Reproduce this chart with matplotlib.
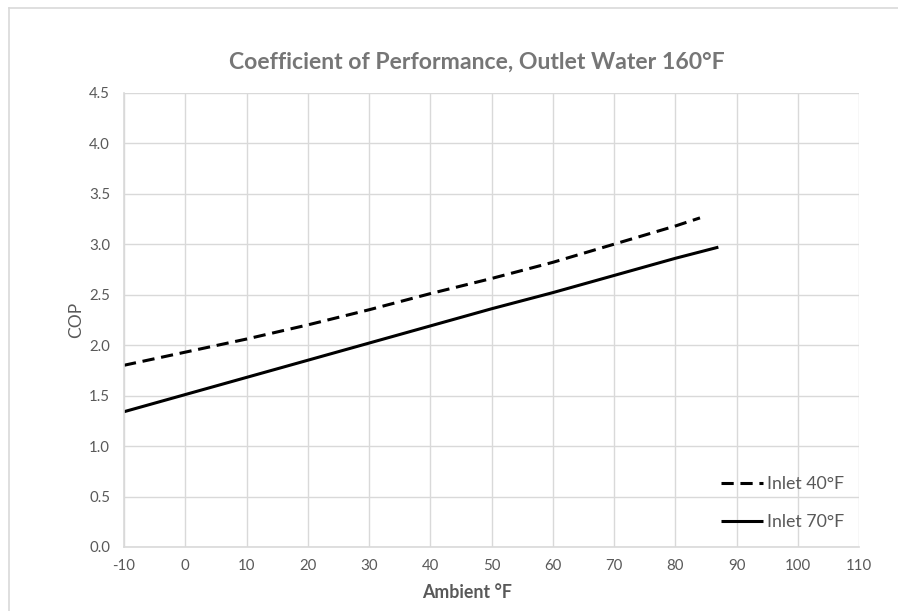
import matplotlib
matplotlib.use("Agg")
import matplotlib.pyplot as plt
from matplotlib.lines import Line2D

plt.rcParams['font.family'] = ['Lato', 'DejaVu Sans']

# Data
ambient_40 = [-10, 0, 10, 20, 30, 40, 50, 60, 70, 80, 84]
cop_40 = [1.80, 1.93, 2.06, 2.20, 2.35, 2.51, 2.66, 2.82, 3.00, 3.18, 3.26]
ambient_70 = [-10, 0, 10, 20, 30, 40, 50, 60, 70, 80, 87]
cop_70 = [1.34, 1.51, 1.68, 1.85, 2.02, 2.19, 2.36, 2.52, 2.69, 2.86, 2.97]

x_ticks = [-10, 0, 10, 20, 30, 40, 50, 60, 70, 80, 90, 100, 110]
y_ticks = [0.0, 0.5, 1.0, 1.5, 2.0, 2.5, 3.0, 3.5, 4.0, 4.5]

title = "Coefficient of Performance, Outlet Water 160°F"
xlabel = "Ambient °F"
ylabel = "COP"
labels = ["Inlet 40°F", "Inlet 70°F"]

W, H = 898, 611
fig = plt.figure(figsize=(W / 100, H / 100), dpi=100)
ax = fig.add_axes([124 / W, (H - 547) / H, (859.3 - 124) / W, (547 - 92.7) / H])

grid_c = '#d9d9d9'
text_c = '#595959'

l1, = ax.plot(ambient_40, cop_40, color='black', lw=2.2, dashes=(4, 2.2),
              solid_capstyle='butt', dash_capstyle='butt')
l2, = ax.plot(ambient_70, cop_70, color='black', lw=2.2, solid_capstyle='butt')

ax.set_xlim(-10, 110)
ax.set_ylim(0, 4.5)
ax.set_xticks(x_ticks)
ax.set_xticklabels([str(v) for v in x_ticks])
ax.set_yticks(y_ticks)
ax.set_yticklabels([f"{v:.1f}" for v in y_ticks])
ax.grid(True, color=grid_c, lw=1.0)
ax.set_axisbelow(True)
for s in ['top', 'right']:
    ax.spines[s].set_visible(False)
for s in ['left', 'bottom']:
    ax.spines[s].set_color(grid_c)
    ax.spines[s].set_linewidth(1.2)
ax.tick_params(length=0, labelsize=10.8, colors=text_c, pad=9)
ax.tick_params(axis='y', pad=10)

fig.text(477 / W, 1 - 62 / H, title, ha='center', va='center',
         fontsize=16.6, fontweight='bold', color='#767676')
fig.text(467 / W, 1 - 593 / H, xlabel, ha='center', va='center',
         fontsize=12.8, fontweight='bold', color=text_c)
fig.text(76 / W, 1 - 320 / H, ylabel, ha='center', va='center',
         fontsize=12.5, rotation=90, color=text_c)

leg = fig.legend([l1, l2], labels, loc='center left',
                 bbox_to_anchor=(721 / W, 1 - 503 / H),
                 frameon=False, fontsize=12.8, handlelength=2.35,
                 handletextpad=0.25, labelspacing=1.25,
                 borderpad=0, borderaxespad=0)
for t in leg.get_texts():
    t.set_color(text_c)

# chart border
fig.add_artist(Line2D([9 / W, 1], [1 - 8 / H, 1 - 8 / H], color=grid_c, lw=1.2))
fig.add_artist(Line2D([9 / W, 9 / W], [0, 1 - 8 / H], color=grid_c, lw=1.2))

fig.savefig("out.png", dpi=100)
